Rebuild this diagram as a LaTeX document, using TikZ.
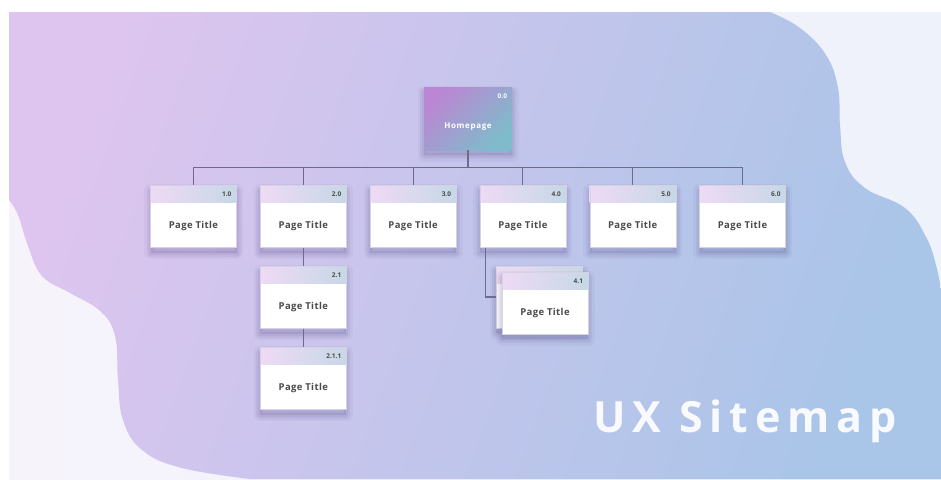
\documentclass[tikz,border=0pt]{standalone}
\usepackage{fontspec}
\setmainfont{Open Sans}

\definecolor{palel}{HTML}{F6F3FB}
\definecolor{paler}{HTML}{EEF2FA}
\definecolor{blobpink}{HTML}{DDC5EF}
\definecolor{blobblue}{HTML}{A9C5E8}
\definecolor{linkgray}{HTML}{6E6A8C}
\definecolor{headpink}{HTML}{EEDAF4}
\definecolor{headblue}{HTML}{C6D8E6}
\definecolor{homepink}{HTML}{BB86D3}
\definecolor{hometeal}{HTML}{7FBCCB}
\definecolor{titlegray}{HTML}{4A4A4A}
\definecolor{boxedge}{HTML}{D6D2E2}
\definecolor{shadowc}{HTML}{4A3F7A}

\tikzset{
  link/.style={draw=linkgray, line width=1.1pt},
  % soft shadow under a box, built from a few faint strokes
  boxshadow/.style={
      preaction={fill=shadowc, fill opacity=0.12, draw=none, transform canvas={yshift=-5pt}},
      preaction={draw=shadowc, draw opacity=0.08, fill=none, line width=4pt, line join=round, transform canvas={yshift=-5pt}},
      preaction={draw=shadowc, draw opacity=0.07, fill=none, line width=8pt, line join=round, transform canvas={yshift=-5pt}},
      preaction={draw=shadowc, draw opacity=0.05, fill=none, line width=13pt, line join=round, transform canvas={yshift=-5pt}}},
  pagebox/.style={rectangle, boxshadow, fill=white, draw=boxedge, line width=0.3pt,
      minimum width=86pt, inner xsep=0pt, inner ysep=0pt,
      text height=43pt, text depth=19pt, text=titlegray,
      font=\bfseries\fontsize{9.5}{10}\selectfont\addfontfeature{LetterSpace=4},
      path picture={\shade[left color=headpink, right color=headblue]
        (path picture bounding box.north west) rectangle
        ([yshift=-17pt]path picture bounding box.north east);}},
  homebox/.style={rectangle, boxshadow, minimum width=88pt, inner xsep=0pt, inner ysep=0pt,
      text height=41pt, text depth=22pt,
      top color=homepink, bottom color=hometeal, shading angle=45,
      text=white, font=\bfseries\fontsize{8}{9}\selectfont\addfontfeature{LetterSpace=8}},
  num/.style={anchor=east, inner sep=0pt, xshift=-5pt, yshift=-9pt,
      font=\bfseries\fontsize{6.5}{7}\selectfont, text=titlegray},
}

\begin{document}
\begin{tikzpicture}[x=1pt, y=-1pt]
  \useasboundingbox (0,0) rectangle (941,479);

  % backdrop and the soft blob behind the tree
  \fill[white] (0,0) rectangle (941,479);
  \shade[left color=palel, right color=paler] (9,12) rectangle (941,479);
  \shade[top color=blobpink, bottom color=blobblue, shading angle=70]
    (9,12) -- (770,12)
    -- plot[smooth, tension=0.7] coordinates {(770,12) (800,28) (826,55) (838,88)
        (840,125) (845,162) (865,188) (905,208) (926,237) (936,265) (941,290)}
    -- (941,479) -- (250,479)
    -- plot[smooth, tension=0.7] coordinates {(250,479) (182,468) (142,450) (123,420)
        (118,380) (115,336) (100,311) (70,293) (42,276) (28,246) (18,215) (9,200)}
    -- cycle;

  % pages
  \node[homebox, label={[num, text=white]north east:0.0}] (home) at (468,118.5) {Homepage};

  \node[pagebox, label={[num]north east:1.0}] (p1) at (193.5,216.5) {Page Title};
  \node[pagebox, label={[num]north east:2.0}] (p2) at (303.3,216.5) {Page Title};
  \node[pagebox, label={[num]north east:3.0}] (p3) at (413.1,216.5) {Page Title};
  \node[pagebox, label={[num]north east:4.0}] (p4) at (522.9,216.5) {Page Title};
  \node[pagebox, label={[num]north east:5.0}] (p5) at (632.7,216.5) {Page Title};
  \node[pagebox, label={[num]north east:6.0}] (p6) at (742.5,216.5) {Page Title};

  \node[pagebox, label={[num]north east:2.1}] (p21) at (303.3,297.5) {Page Title};
  \node[pagebox, label={[num]north east:2.1.1}] (p211) at (303.3,378.5) {Page Title};

  \node[pagebox] (p41b) at (539,297) {};
  \node[pagebox, label={[num]north east:4.1}] (p41) at (545,303) {Page Title};

  % links
  \draw[link] (home.south) -- ++(0,17) -| (p1.north);
  \draw[link] (home.south) -- ++(0,17) -| (p2.north);
  \draw[link] (home.south) -- ++(0,17) -| (p3.north);
  \draw[link] (home.south) -- ++(0,17) -| (p4.north);
  \draw[link] (home.south) -- ++(0,17) -| (p5.north);
  \draw[link] (home.south) -- ++(0,17) -| (p6.north);
  \draw[link] (p2.south) -- (p21.north);
  \draw[link] (p21.south) -- (p211.north);
  \draw[link] ([xshift=6pt]p4.south west) |- (p41b.west);

  \node[anchor=base west, inner sep=0pt, text=white, text opacity=0.92,
    font=\bfseries\fontsize{43}{43}\selectfont\addfontfeature{LetterSpace=16}]
    (title) at (593,432) {UX Sitemap};
\end{tikzpicture}
\end{document}
